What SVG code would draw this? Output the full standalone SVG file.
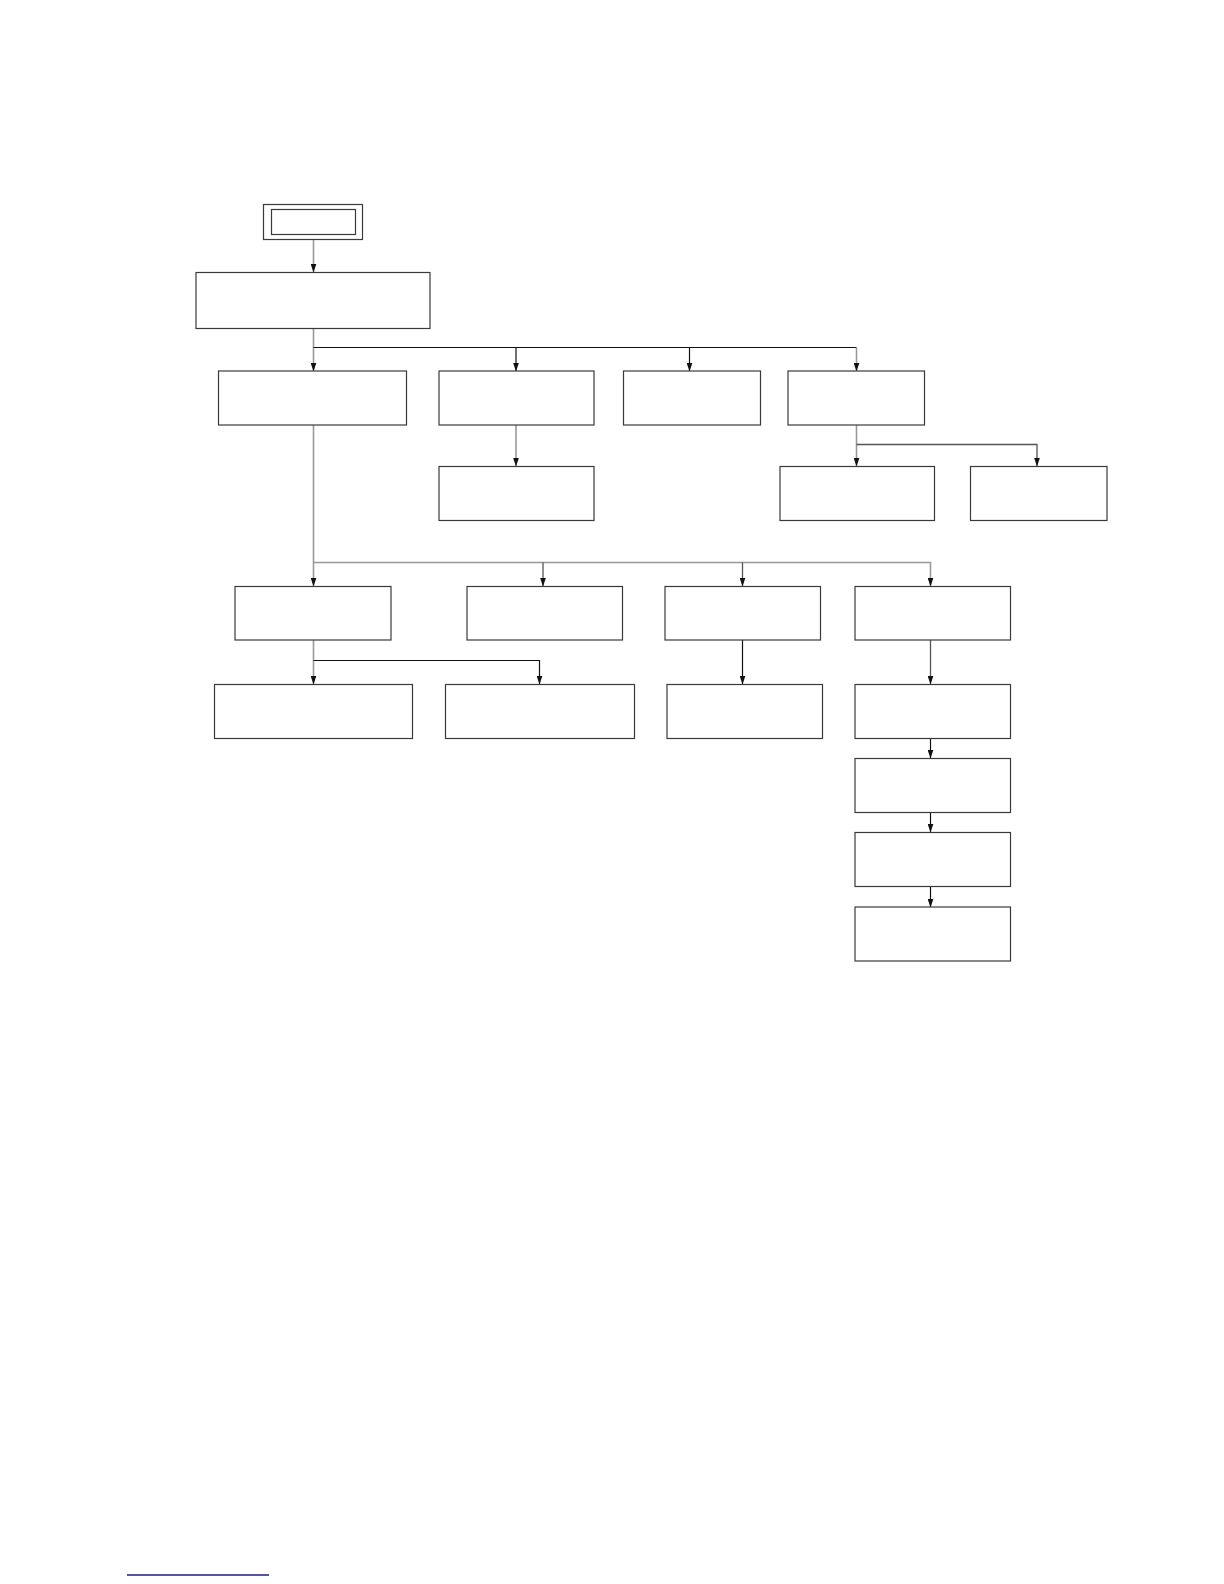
<svg xmlns="http://www.w3.org/2000/svg" width="1224" height="1584" viewBox="0 0 1224 1584">
<style>
.box{fill:#fff;stroke:#3a3a3a;stroke-width:1.2}
.c{fill:none;stroke:#555;stroke-width:1.3}
.cg{fill:none;stroke:#999;stroke-width:1.6}
.cb{fill:none;stroke:#111;stroke-width:1.2}
</style>
<defs>
<marker id="ah" markerUnits="userSpaceOnUse" markerWidth="9" markerHeight="6" refX="8.5" refY="3" orient="auto" viewBox="0 0 9 6">
<path d="M0,0 L9,3 L0,6 z" fill="#111"/>
</marker>
</defs>
<rect width="1224" height="1584" fill="#fff"/>
<g id="connectors">
<path class="cg" d="M313.5,240 V272" marker-end="url(#ah)"/>
<path class="cg" d="M313.5,328 V371" marker-end="url(#ah)"/>
<path class="cb" d="M313.5,347.5 H856.5"/>
<path class="cb" d="M516,347.5 V371" marker-end="url(#ah)"/>
<path class="cb" d="M689.5,347.5 V371" marker-end="url(#ah)"/>
<path class="cg" d="M856.5,347.5 V371" marker-end="url(#ah)"/>
<path class="cg" d="M516,425 V466" marker-end="url(#ah)"/>
<path class="cg" d="M856.5,425 V466" marker-end="url(#ah)"/>
<path class="c" d="M856.5,444.5 H1037 V466" marker-end="url(#ah)"/>
<path class="cg" d="M313.5,425 V586" marker-end="url(#ah)"/>
<path class="cg" d="M313.5,562.5 H930.5 V586" marker-end="url(#ah)"/>
<path class="c" d="M543,562.5 V586" marker-end="url(#ah)"/>
<path class="c" d="M742.5,562.5 V586" marker-end="url(#ah)"/>
<path class="cg" d="M313.5,640 V684" marker-end="url(#ah)"/>
<path class="cb" d="M313.5,660.5 H539.5 V684" marker-end="url(#ah)"/>
<path class="cb" d="M742.5,640 V684" marker-end="url(#ah)"/>
<path class="c" d="M930.5,640 V684" marker-end="url(#ah)"/>
<path class="cb" d="M930.5,739 V758" marker-end="url(#ah)"/>
<path class="cb" d="M930.5,812.5 V832" marker-end="url(#ah)"/>
<path class="cb" d="M930.5,887 V907" marker-end="url(#ah)"/>
</g>
<g id="start">
<rect class="box" x="263.5" y="204.5" width="99" height="35"/>
<rect class="box" x="271.5" y="209.5" width="84" height="25"/>
</g>
<g id="main"><rect class="box" x="196" y="272.5" width="234" height="56"/></g>
<g id="a1"><rect class="box" x="218.5" y="371" width="188" height="54"/></g>
<g id="a2"><rect class="box" x="439" y="371" width="155" height="54"/></g>
<g id="a3"><rect class="box" x="623.5" y="371" width="137" height="54"/></g>
<g id="a4"><rect class="box" x="788" y="371" width="136.5" height="54"/></g>
<g id="a2c"><rect class="box" x="439" y="466.5" width="155" height="54"/></g>
<g id="b1"><rect class="box" x="780" y="466.5" width="154.5" height="54"/></g>
<g id="b2"><rect class="box" x="970.5" y="466.5" width="136.5" height="54"/></g>
<g id="c1"><rect class="box" x="235" y="586.5" width="156" height="53.5"/></g>
<g id="c2"><rect class="box" x="467" y="586.5" width="155.5" height="53.5"/></g>
<g id="c3"><rect class="box" x="665" y="586.5" width="155.5" height="53.5"/></g>
<g id="c4"><rect class="box" x="855" y="586.5" width="155.5" height="53.5"/></g>
<g id="d1"><rect class="box" x="214.5" y="684.5" width="198" height="54"/></g>
<g id="d2"><rect class="box" x="445.5" y="684.5" width="189" height="54"/></g>
<g id="d3"><rect class="box" x="667" y="684.5" width="155.5" height="54"/></g>
<g id="d4"><rect class="box" x="855" y="684.5" width="155.5" height="54"/></g>
<g id="e4"><rect class="box" x="855" y="758.5" width="155.5" height="54"/></g>
<g id="f4"><rect class="box" x="855" y="832.5" width="155.5" height="54"/></g>
<g id="g4"><rect class="box" x="855" y="907" width="155.5" height="54"/></g>
<line x1="127" y1="1575" x2="269" y2="1575" stroke="#1a1a8a" stroke-width="1.3"/>
</svg>
